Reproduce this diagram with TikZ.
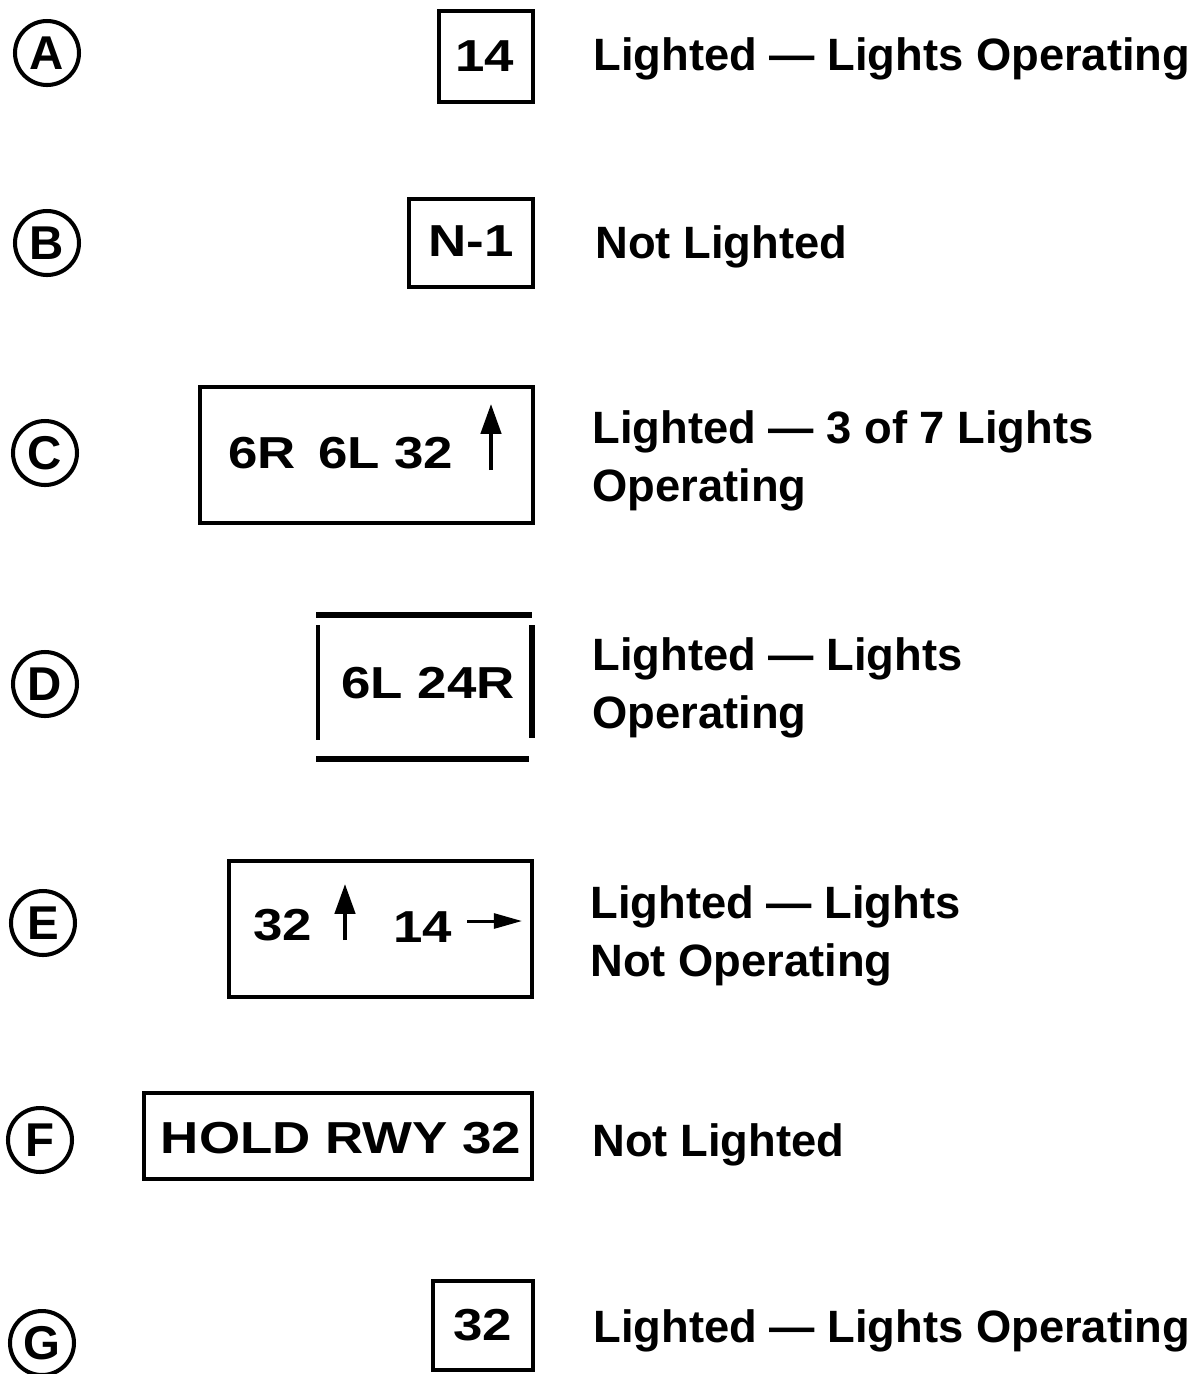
\documentclass[tikz,border=0pt]{standalone}
\usepackage{fontspec}
\setmainfont{Liberation Sans}
\newfontfamily\signfont[FakeStretch=1.18]{Liberation Sans Bold}
\usetikzlibrary{positioning, arrows.meta, calc}
\tikzset{
  letterring/.style={
    circle,
    draw=black,
    line width=2.3pt,
    minimum size=1.28cm,
    inner sep=0pt,
    font=\fontsize{27}{30}\selectfont\bfseries
  },
  signbox/.style={
    rectangle,
    draw=black,
    line width=2.8pt,
    inner sep=0pt
  },
  signtext/.style={
    font=\fontsize{25.5}{30}\signfont,
    inner sep=0pt
  },
  signbar/.style={
    line width=2.9pt
  },
  signarrow/.style={
    -{Triangle[length=17pt, width=11.5pt]},
    line width=2.2pt
  },
  notelabel/.style={
    font=\fontsize{25.8}{32.9}\selectfont\bfseries,
    align=left,
    inner sep=0pt
  }
}

\begin{document}
\begin{tikzpicture}[x=0.02cm, y=-0.02cm]
  \useasboundingbox (0,0) rectangle (1199,1374);

  % circled letters
  \foreach \ltr/\xpos/\ypos in {A/47/53, B/47/243, C/45/453, D/45/684, E/43/923, F/40/1140, G/42/1343}
    \node[letterring] (ring\ltr) at (\xpos,\ypos) {\ltr};

  % A
  \node[signbox, minimum width=1.88cm, minimum height=1.82cm] (signA) at (486,56.5) {};
  \node[signtext] (textA) at (485,56) {14};
  \node[notelabel, anchor=base west] (noteA) at (593,70) {Lighted — Lights Operating};

  % B
  \node[signbox, minimum width=2.48cm, minimum height=1.76cm] (signB) at (471,243) {};
  \node[signtext] (textB) at (471,241) {N-1};
  \node[notelabel, anchor=base west] (noteB) at (595,258) {Not Lighted};

  % C
  \node[signbox, minimum width=6.66cm, minimum height=2.72cm] (signC) at (366.5,455) {};
  \node[signtext, anchor=west] (textC) at (228,453) {6R\, 6L 32};
  \coordinate (arrowC-base) at (491,470);
  \coordinate (arrowC-tip) at (491,404);
  \draw[signarrow] (arrowC-base) -- (arrowC-tip);
  \node[notelabel, anchor=base west] (noteC) at (592,501) {Lighted — 3 of 7 Lights\\Operating};

  % D
  \node[signtext] (textD) at (428,683) {6L 24R};
  \coordinate (barD-tl) at (316,615);
  \coordinate (barD-tr) at (532,615);
  \coordinate (barD-bl) at (316,759);
  \coordinate (barD-br) at (529,759);
  \draw[signbar] (barD-tl) -- (barD-tr);
  \draw[signbar] (barD-bl) -- (barD-br);
  \draw[signbar, line width=2.4pt] (318,625) -- (318,740);
  \draw[signbar] (532,625) -- (532,738);
  \node[notelabel, anchor=base west] (noteD) at (592,728) {Lighted — Lights\\Operating};

  % E
  \node[signbox, minimum width=6.06cm, minimum height=2.72cm] (signE) at (380.5,929) {};
  \node[signtext, anchor=west] (textE1) at (253,925) {32};
  \node[signtext, anchor=west] (textE2) at (393,927) {14};
  \coordinate (arrowE-base) at (345,940);
  \coordinate (arrowE-tip) at (345,884);
  \draw[signarrow] (arrowE-base) -- (arrowE-tip);
  \coordinate (arrowE-start) at (467,921);
  \coordinate (arrowE-end) at (522,921);
  \draw[signarrow, -{Triangle[length=16pt, width=8.5pt]}, line width=1.7pt] (arrowE-start) -- (arrowE-end);
  \node[notelabel, anchor=base west] (noteE) at (590,976) {Lighted — Lights\\Not Operating};

  % F
  \node[signbox, minimum width=7.76cm, minimum height=1.72cm] (signF) at (338,1136) {};
  \node[signtext] (textF) at (341,1138) {HOLD RWY 32};
  \node[notelabel, anchor=base west] (noteF) at (592,1156) {Not Lighted};

  % G
  \node[signbox, minimum width=2.0cm, minimum height=1.78cm] (signG) at (483,1325.5) {};
  \node[signtext] (textG) at (483,1325) {32};
  \node[notelabel, anchor=base west] (noteG) at (593,1342) {Lighted — Lights Operating};
\end{tikzpicture}
\end{document}
